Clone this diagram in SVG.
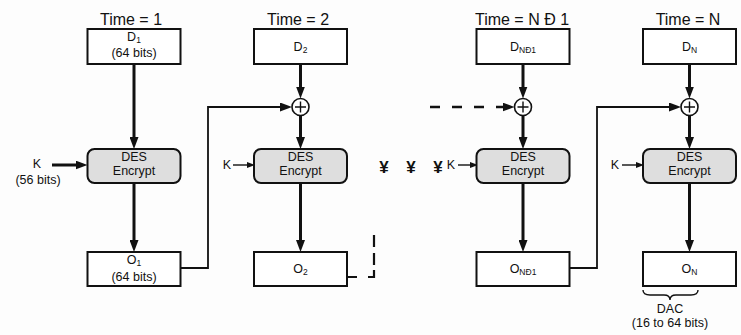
<svg xmlns="http://www.w3.org/2000/svg" width="741" height="335" viewBox="0 0 741 335">
<style>
  text { font-family: "Liberation Sans", Arial, sans-serif; fill: #111; text-anchor: middle; }
  .time { font-size: 16px; }
  .lbl { font-size: 12.5px; }
  .sub { font-size: 8.5px; }
  .box { fill: #ffffff; stroke: #111; stroke-width: 2; }
  .des { fill: #dedede; stroke: #111; stroke-width: 2; }
  .xor { fill: #ffffff; stroke: #111; stroke-width: 1.6; }
  .thick { stroke: #111; stroke-width: 3; fill: none; marker-end: url(#ah); }
  .thin { stroke: #111; stroke-width: 1.8; fill: none; marker-end: url(#ah); }
  .kthin { stroke: #111; stroke-width: 1.4; fill: none; marker-end: url(#as); }
  .dash { stroke: #111; stroke-width: 2.6; fill: none; }
  .yen { font-size: 17px; font-weight: bold; }
</style>
<defs>
  <marker id="ah" markerUnits="userSpaceOnUse" markerWidth="12" markerHeight="9" refX="6" refY="4.5" orient="auto">
    <path d="M0,0 L12,4.5 L0,9 z" fill="#111"/>
  </marker>
  <marker id="as" markerUnits="userSpaceOnUse" markerWidth="8" markerHeight="6" refX="3" refY="3" orient="auto">
    <path d="M0,0 L8,3 L0,6 z" fill="#111"/>
  </marker>
</defs>
<rect x="0" y="0" width="741" height="335" fill="#fdfdfd"/>

<g id="connectors">
  <!-- column 1 -->
  <line class="thick" x1="134" y1="65" x2="134" y2="143"/>
  <line class="thick" x1="134" y1="184" x2="134" y2="246"/>
  <line class="thick" x1="52" y1="165" x2="81.5" y2="165"/>
  <path class="thin" d="M181,268 H208 V107 H286"/>
  <!-- column 2 -->
  <line class="thick" x1="300.5" y1="65" x2="300.5" y2="92.5"/>
  <line class="thick" x1="300.5" y1="115.5" x2="300.5" y2="143"/>
  <line class="thick" x1="300.5" y1="184" x2="300.5" y2="246"/>
  <line class="kthin" x1="233" y1="165" x2="250" y2="165"/>
  <path d="M347,277 H357 M368,277 H374 V270 M374,265 V253 M374,247 V235" stroke="#111" stroke-width="2.2" fill="none"/>
  <!-- column 3 -->
  <line class="thick" x1="523" y1="65" x2="523" y2="92.5"/>
  <line class="thick" x1="523" y1="115.5" x2="523" y2="143"/>
  <line class="thick" x1="523" y1="184" x2="523" y2="246"/>
  <line class="dash" x1="430" y1="107" x2="508.5" y2="107" stroke-dasharray="10 12" marker-end="url(#ah)"/>
  <line class="kthin" x1="458" y1="165" x2="473" y2="165"/>
  <path class="thin" d="M570,268 H597 V107 H675"/>
  <!-- column 4 -->
  <line class="thick" x1="689.5" y1="65" x2="689.5" y2="92.5"/>
  <line class="thick" x1="689.5" y1="115.5" x2="689.5" y2="143"/>
  <line class="thick" x1="689.5" y1="184" x2="689.5" y2="246"/>
  <line class="kthin" x1="622" y1="165" x2="639" y2="165"/>
</g>

<g id="time-labels">
  <text class="time" x="131" y="25">Time = 1</text>
  <text class="time" x="298" y="25">Time = 2</text>
  <text class="time" x="522" y="25">Time = N Ð 1</text>
  <text class="time" x="688" y="25">Time = N</text>
</g>

<g id="D1">
  <rect class="box" x="87.5" y="29" width="93" height="35"/>
  <text class="lbl" x="134" y="41">D<tspan class="sub" dy="1.5">1</tspan></text>
  <text class="lbl" x="134" y="57">(64 bits)</text>
</g>
<g id="D2">
  <rect class="box" x="254" y="29" width="93" height="35"/>
  <text class="lbl" x="300.5" y="51">D<tspan class="sub" dy="2">2</tspan></text>
</g>
<g id="DN1">
  <rect class="box" x="476.5" y="29" width="93" height="35"/>
  <text class="lbl" x="523" y="51">D<tspan class="sub" dy="2">NÐ1</tspan></text>
</g>
<g id="DN">
  <rect class="box" x="643" y="29" width="93" height="35"/>
  <text class="lbl" x="689.5" y="51">D<tspan class="sub" dy="2">N</tspan></text>
</g>

<g id="xor2">
  <circle class="xor" cx="300.5" cy="107" r="8.5"/>
  <path d="M300.5,101.5 V112.5 M295,107 H306" stroke="#111" stroke-width="1.4"/>
</g>
<g id="xor3">
  <circle class="xor" cx="523" cy="107" r="8.5"/>
  <path d="M523,101.5 V112.5 M517.5,107 H528.5" stroke="#111" stroke-width="1.4"/>
</g>
<g id="xor4">
  <circle class="xor" cx="689.5" cy="107" r="8.5"/>
  <path d="M689.5,101.5 V112.5 M684,107 H695" stroke="#111" stroke-width="1.4"/>
</g>

<g id="K1">
  <text class="lbl" x="37" y="168">K</text>
  <text class="lbl" x="38" y="184">(56 bits)</text>
</g>
<g id="K2"><text class="lbl" x="227" y="169">K</text></g>
<g id="dots">
  <text class="yen" x="384" y="173">¥</text>
  <text class="yen" x="411" y="173">¥</text>
  <text class="yen" x="438" y="173">¥</text>
  <text class="lbl" x="451" y="169">K</text>
</g>
<g id="K4"><text class="lbl" x="615" y="169">K</text></g>

<g id="DES1">
  <rect class="des" x="87.5" y="149" width="93" height="34" rx="7"/>
  <text class="lbl" x="134" y="161">DES</text>
  <text class="lbl" x="134" y="175">Encrypt</text>
</g>
<g id="DES2">
  <rect class="des" x="254" y="149" width="93" height="34" rx="7"/>
  <text class="lbl" x="300.5" y="161">DES</text>
  <text class="lbl" x="300.5" y="175">Encrypt</text>
</g>
<g id="DES3">
  <rect class="des" x="476.5" y="149" width="93" height="34" rx="7"/>
  <text class="lbl" x="523" y="161">DES</text>
  <text class="lbl" x="523" y="175">Encrypt</text>
</g>
<g id="DES4">
  <rect class="des" x="643" y="149" width="93" height="34" rx="7"/>
  <text class="lbl" x="689.5" y="161">DES</text>
  <text class="lbl" x="689.5" y="175">Encrypt</text>
</g>

<g id="O1">
  <rect class="box" x="87.5" y="252" width="93" height="34"/>
  <text class="lbl" x="134" y="264">O<tspan class="sub" dy="1.5">1</tspan></text>
  <text class="lbl" x="134" y="281">(64 bits)</text>
</g>
<g id="O2">
  <rect class="box" x="254" y="252" width="93" height="34"/>
  <text class="lbl" x="300.5" y="273">O<tspan class="sub" dy="2">2</tspan></text>
</g>
<g id="ON1">
  <rect class="box" x="476.5" y="252" width="93" height="34"/>
  <text class="lbl" x="523" y="273">O<tspan class="sub" dy="2">NÐ1</tspan></text>
</g>
<g id="ON">
  <rect class="box" x="643" y="252" width="93" height="34"/>
  <text class="lbl" x="689.5" y="273">O<tspan class="sub" dy="2">N</tspan></text>
</g>

<g id="DAC">
  <path d="M643,290 Q643,295 650,295 H664 Q670,295 670,300 Q670,295 676,295 H691 Q698,295 698,290" fill="none" stroke="#111" stroke-width="1.4"/>
  <text class="lbl" x="670" y="313">DAC</text>
  <text class="lbl" x="670" y="327">(16 to 64 bits)</text>
</g>
</svg>
